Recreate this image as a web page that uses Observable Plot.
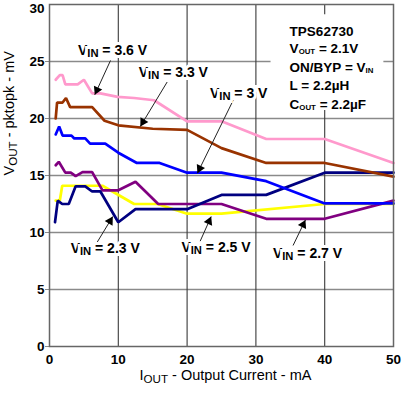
<!DOCTYPE html>
<html><head><meta charset="utf-8">
<script src="https://cdn.jsdelivr.net/npm/d3@7"></script>
<script src="https://cdn.jsdelivr.net/npm/@observablehq/plot@0.6"></script>
<style>body{margin:0;background:#fff} svg{display:block}</style>
</head><body><div id="chart"></div>
<script>
// ---- data ----
const vinNames = ["2.5 V", "2.7 V", "2.3 V", "3 V", "3.3 V", "3.6 V"];
const vinColors = ["#ffff00", "#800080", "#000080", "#0000ff", "#993300", "#ff99cc"];

const iout25 = [0.9, 1.5, 1.85, 7.7, 12.3, 15.7, 20, 25, 40, 50];
const vpp25  = [12.8, 12.8, 14.1, 14.1, 12.5, 12.5, 11.65, 11.65, 12.5, 12.5];

const iout27 = [0.9, 1.35, 2.3, 3.1, 3.8, 4.8, 6.2, 7.7, 10, 12.5, 15.8, 25, 31.5, 40, 50];
const vpp27  = [15.9, 16.2, 15.25, 15.25, 14.95, 15.3, 15.3, 13.7, 13.7, 14.45, 12.5, 12.5, 11.2, 11.2, 12.8];

const iout23 = [0.8, 1.2, 1.85, 2.8, 3.8, 5.2, 6.2, 7.4, 10, 12.5, 20, 25, 31.5, 40, 50];
const vpp23  = [10.9, 12.8, 12.5, 12.5, 14.05, 14.05, 13.6, 13.6, 10.9, 12.05, 12.05, 13.3, 13.3, 15.25, 15.25];

const iout30 = [0.9, 1.4, 1.9, 3.2, 3.6, 5.2, 5.9, 8.1, 10, 12.7, 16, 20, 25, 31.5, 40, 50];
const vpp30  = [18.6, 19.3, 18.5, 18.5, 18.25, 18.25, 17.8, 17.8, 17.0, 16.1, 16.1, 15.25, 15.25, 14.5, 12.55, 12.55];

const iout33 = [0.9, 1.1, 1.9, 2.4, 3.0, 6.2, 8.0, 10, 15, 20, 25, 31.5, 40, 50];
const vpp33  = [20.0, 21.4, 21.4, 21.8, 21.0, 21.0, 19.8, 19.4, 19.1, 19.0, 17.4, 16.1, 16.1, 14.9];

const iout36 = [0.9, 1.5, 1.9, 2.3, 4.1, 5.0, 6.2, 7.4, 9.9, 12.3, 15.2, 20, 25, 31.5, 40, 50];
const vpp36  = [23.4, 23.8, 23.8, 23.0, 23.0, 23.4, 22.2, 22.2, 21.9, 21.8, 21.6, 19.75, 19.75, 18.2, 18.2, 16.1];

const xTicks = [0, 10, 20, 30, 40, 50];
const yTicks = [0, 5, 10, 15, 20, 25, 30];

const labelTexts = ["V_{IN} = 3.6 V", "V_{IN} = 3.3 V", "V_{IN} = 3 V", "V_{IN} = 2.3 V", "V_{IN} = 2.5 V", "V_{IN} = 2.7 V"];
const labelX = [9.16, 18.0, 27.5, 8.1, 24.2, 37.5];
const labelY = [26.0, 24.0, 22.2, 8.6, 8.7, 8.13];
const arrowTailX = [8.87, 17.1, 26.7, 6.93, 21.9, 35.4];
const arrowTailY = [25.09, 23.2, 21.6, 9.15, 9.24, 8.86];
const arrowHeadX = [6.58, 13.2, 21.5, 9.2, 23.5, 37.2];
const arrowHeadY = [22.08, 19.3, 15.2, 11.4, 11.4, 11.1];

const noteLines = ["TPS62730", "V~{OUT} = 2.1V", "ON/BYP = V~{IN}", "L = 2.2\u00b5H", "C~{OUT} = 2.2\u00b5F"];
const noteY = [27.6, 26.1, 24.5, 22.9, 21.2];
const noteX = 34.9;
const noteBox = {x1: 32.2, x2: 48.6, y1: 20.7, y2: 29.1};

// ---- build tables ----
const seriesX = [iout25, iout27, iout23, iout30, iout33, iout36];
const seriesY = [vpp25, vpp27, vpp23, vpp30, vpp33, vpp36];
const rows = seriesX.flatMap((xs, s) => xs.map((x, i) => ({vin: vinNames[s], x, y: seriesY[s][i]})));

const W = 402, H = 395, ML = 49, MR = 9, MT = 4, MB = 49;
const kx = (W - ML - MR) / 50, ky = (H - MT - MB) / 30;
const headR = 3.4;
const tipDist = 2 * Math.sqrt(Math.PI * headR * headR / (3 * Math.sqrt(3)));
const arrows = labelTexts.map((t, i) => {
  const dxp = (arrowHeadX[i] - arrowTailX[i]) * kx;
  const dyp = -(arrowHeadY[i] - arrowTailY[i]) * ky;
  const len = Math.hypot(dxp, dyp);
  const ux = dxp / len, uy = dyp / len;
  return {
    x1: arrowTailX[i], y1: arrowTailY[i], x2: arrowHeadX[i], y2: arrowHeadY[i],
    cx: arrowHeadX[i] - ux * tipDist / kx, cy: arrowHeadY[i] + uy * tipDist / ky,
    angle: Math.atan2(ux, -uy) * 180 / Math.PI
  };
});
const labels = labelTexts.map((t, i) => ({t, x: labelX[i], y: labelY[i]}));
const notes = noteLines.map((t, i) => ({t, y: noteY[i]}));

const chart = Plot.plot({
  width: W, height: H, marginLeft: ML, marginRight: MR, marginTop: MT, marginBottom: MB,
  style: {fontFamily: "'Liberation Sans', Arial, sans-serif", background: "white", color: "black"},
  x: {domain: [0, 50]},
  y: {domain: [0, 30]},
  color: {domain: vinNames, range: vinColors},
  marks: [
    Plot.ruleY(yTicks.slice(1, -1), {stroke: "#8a8a8a", strokeWidth: 1.3}),
    Plot.ruleX(xTicks.slice(1, -1), {stroke: "#3a3a3a", strokeWidth: 1.1}),
    Plot.rect([noteBox], {x1: "x1", x2: "x2", y1: "y1", y2: "y2", fill: "white"}),
    Plot.axisY({ticks: yTicks.slice(0, -1), tickSize: 4, tickPadding: 1, stroke: "#8a8a8a", label: null, fontSize: 13.5, fontWeight: "bold", tickFormat: d => d}),
    Plot.axisY({ticks: yTicks.slice(-1), tickSize: 0, tickPadding: 5, dy: 4, label: null, fontSize: 13.5, fontWeight: "bold", tickFormat: d => d}),
    Plot.axisX({ticks: xTicks, tickSize: 0, tickPadding: 8, label: null, fontSize: 13.5, fontWeight: "bold", tickFormat: d => d}),
    Plot.line(rows, {x: "x", y: "y", z: "vin", stroke: "vin", strokeWidth: 2.7, strokeLinejoin: "miter"}),
    Plot.frame({stroke: "#666", strokeWidth: 1.5}),
    Plot.link(arrows, {x1: "x1", y1: "y1", x2: "x2", y2: "y2", stroke: "#222", strokeWidth: 1}),
    Plot.dot(arrows, {x: "cx", y: "cy", symbol: "triangle", r: headR, fill: "black", stroke: "none", rotate: "angle"}),
    Plot.text(labels, {x: "x", y: "y", text: "t", fontSize: 14, fontWeight: "bold", fill: "black",
      stroke: "white", strokeWidth: 6, paintOrder: "stroke", strokeLinejoin: "miter"}),
    Plot.text(notes, {x: noteX, y: "y", text: "t", textAnchor: "start", fontSize: 13.5, fontWeight: "bold", fill: "black"}),
    Plot.text(["I_{OUT} - Output Current - mA"], {frameAnchor: "bottom", dy: 33, dx: 4, text: d => d, fontSize: 14.5, fill: "black"}),
    Plot.text(["V_{OUT} - pktopk - mV"], {frameAnchor: "left", dx: -40, rotate: -90, text: d => d, fontSize: 14.5, fill: "black"})
  ]
});

// subscripts: _{..} large, ~{..} small
chart.querySelectorAll("text").forEach(t => {
  const s = t.textContent;
  if (t.children.length || !/[_~]\{/.test(s)) return;
  t.textContent = "";
  const re = /([_~])\{([^}]*)\}/g;
  let last = 0, m;
  const ns = "http://www.w3.org/2000/svg";
  while ((m = re.exec(s))) {
    if (m.index > last) t.appendChild(document.createTextNode(s.slice(last, m.index)));
    const sp = document.createElementNS(ns, "tspan");
    sp.setAttribute("baseline-shift", m[1] === "_" ? "-22%" : "-8%");
    sp.setAttribute("font-size", m[1] === "_" ? "80%" : "58%");
    sp.textContent = m[2];
    t.appendChild(sp);
    last = re.lastIndex;
  }
  if (last < s.length) t.appendChild(document.createTextNode(s.slice(last)));
});

document.getElementById("chart").appendChild(chart);
</script>
</body></html>
